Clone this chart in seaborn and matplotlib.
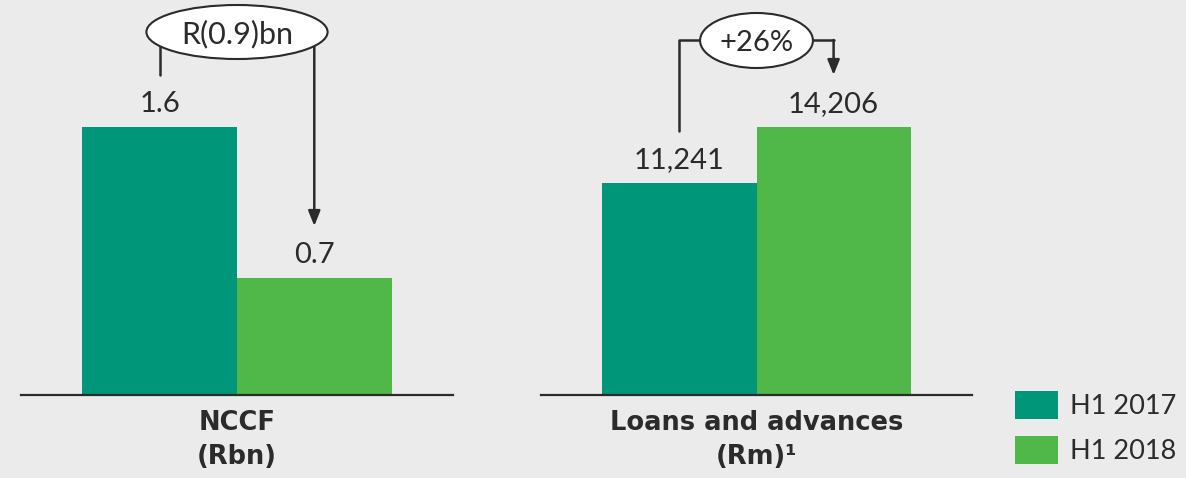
import numpy as np
import pandas as pd
import matplotlib
matplotlib.use('Agg')
from matplotlib import pyplot as plt
from matplotlib.patches import Ellipse, Patch
import seaborn as sns

# chart data
years = ['H1 2017', 'H1 2018']
nccf = [1.6, 0.7]
loans = [11241, 14206]
panel_labels = ['NCCF\n(Rbn)', 'Loans and advances\n(Rm)\u00b9']
value_labels = [['1.6', '0.7'], ['11,241', '14,206']]
change_labels = ['R(0.9)bn', '+26%']

colors = ['#009679', '#50b848']
bg = '#ebebeb'
ink = '#2b2b2b'

sns.set_theme(style='white')
plt.rcParams['font.family'] = ['Lato', 'DejaVu Sans']

W, H = 1186, 478
fig = plt.figure(figsize=(W / 100, H / 100), dpi=100, facecolor=bg)

def px_axes(x0, x1, y_top, y_base):
    return fig.add_axes([x0 / W, 1 - y_base / H, (x1 - x0) / W, (y_base - y_top) / H])

base_px = 395
bar_px = 268  # pixel height of the tallest bar
axes = [px_axes(21, 453, 0, base_px), px_axes(541, 972, 0, base_px)]

for i, (ax, vals) in enumerate(zip(axes, [nccf, loans])):
    df = pd.DataFrame({'cat': [panel_labels[i]] * 2, 'year': years, 'value': vals})
    sns.barplot(data=df, x='cat', y='value', hue='year', palette=colors,
                width=0.8, saturation=1, linewidth=0, ax=ax, legend=False)
    ax.set_facecolor(bg)
    ax.set_xlim(-0.559, 0.559)
    ax.set_ylim(0, max(vals) * base_px / bar_px)
    for s in ['top', 'right', 'left']:
        ax.spines[s].set_visible(False)
    ax.spines['bottom'].set_color(ink)
    ax.spines['bottom'].set_linewidth(1.6)
    ax.set_yticks([])
    ax.set_xlabel('')
    ax.set_ylabel('')
    ax.tick_params(axis='x', length=0, pad=11)
    for t in ax.get_xticklabels():
        t.set_family('DejaVu Sans')
        t.set_fontsize(18.5)
        t.set_fontweight('bold')
        t.set_color(ink)
        t.set_linespacing(1.38)
        t.set_verticalalignment('top')
    for j, p in enumerate(ax.patches[:2]):
        ax.annotate(value_labels[i][j], (p.get_x() + p.get_width() / 2, p.get_height()),
                    xytext=(0, 7), textcoords='offset points', ha='center', va='bottom',
                    fontsize=21, color=ink)

def fy(py):
    # pixel row -> axes fraction
    return (base_px - py) / base_px

c1, c2 = -0.2, 0.2
lw = 1.8
head = '-|>,head_length=0.75,head_width=0.3'

# left panel: R(0.9)bn
ax = axes[0]
tr = ax.get_xaxis_transform()
ax.plot([c1, c1], [fy(75), fy(32)], color=ink, lw=lw, transform=tr, clip_on=False, zorder=3)
ax.annotate('', xy=(c2, fy(226)), xytext=(c2, fy(32)), xycoords=tr, textcoords=tr,
            arrowprops=dict(arrowstyle=head, color=ink, lw=lw, shrinkA=0, shrinkB=0),
            zorder=3, annotation_clip=False)
ax.add_patch(Ellipse((0, fy(32)), 181 / 386, 54 / base_px, transform=tr, facecolor='white',
                     edgecolor=ink, lw=1.5, clip_on=False, zorder=4))
ax.text(0, fy(32), change_labels[0], transform=tr, ha='center', va='center_baseline',
        fontsize=22, color=ink, zorder=5)

# right panel: +26%
ax = axes[1]
tr = ax.get_xaxis_transform()
ax.plot([c1, c1, c2], [fy(131), fy(40), fy(40)], color=ink, lw=lw, transform=tr,
        clip_on=False, zorder=3)
ax.annotate('', xy=(c2, fy(75)), xytext=(c2, fy(40)), xycoords=tr, textcoords=tr,
            arrowprops=dict(arrowstyle=head, color=ink, lw=lw, shrinkA=0, shrinkB=0),
            zorder=3, annotation_clip=False)
ax.add_patch(Ellipse((0, fy(40.5)), 113 / 386, 55 / base_px, transform=tr, facecolor='white',
                     edgecolor=ink, lw=1.5, clip_on=False, zorder=4))
ax.text(0, fy(40.5), change_labels[1], transform=tr, ha='center', va='center_baseline',
        fontsize=21, color=ink, zorder=5)

handles = [Patch(facecolor=c, edgecolor='none') for c in colors]
fig.legend(handles, years, loc='upper left', bbox_to_anchor=(995 / W, 1 - 371 / H),
           frameon=False, borderpad=0.25, handlelength=1.59, handleheight=1.21,
           handletextpad=0.42, labelspacing=0.62, labelcolor=ink,
           prop={'size': 19.5})

fig.savefig('out.png', dpi=100, facecolor=bg)
